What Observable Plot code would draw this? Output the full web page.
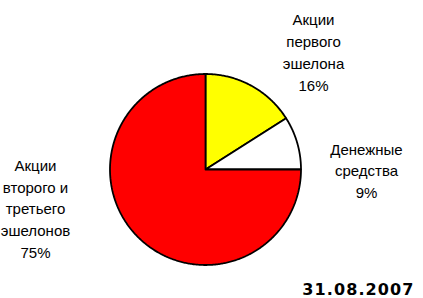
<!DOCTYPE html>
<html><head><meta charset="utf-8">
<script src="https://cdn.jsdelivr.net/npm/d3@7"></script>
<script src="https://cdn.jsdelivr.net/npm/@observablehq/plot@0.6"></script>
<style>body{margin:0;background:#fff} .datelabel text{letter-spacing:1.1px}</style>
</head><body><div id="chart"></div>
<script>
const categories = ["Акции\nпервого\nэшелона", "Денежные\nсредства", "Акции\nвторого и\nтретьего\nэшелонов"];
const shares = [16, 9, 75];
const colors = ["#ffff00", "#ffffff", "#ff0000"];
const dateLabel = "31.08.2007";

// layout (not data)
const cx = 205, cy = 169, r = 95.5;
const labelAnchors = [[1.131, 1.24], [1.686, 0.0], [-1.78, -0.398]];

const arcs = d3.pie().sort(null).value(d => d)(shares);
const poly = [];
arcs.forEach((a, i) => {
  poly.push({k: i, x: 0, y: 0});
  const n = Math.max(2, Math.ceil((a.endAngle - a.startAngle) / 0.01));
  for (let j = 0; j <= n; j++) {
    const t = a.startAngle + (a.endAngle - a.startAngle) * j / n;
    poly.push({k: i, x: Math.sin(t), y: Math.cos(t)});
  }
  poly.push({k: i, x: 0, y: 0});
});
const labels = categories.map((c, i) => ({
  text: c + "\n" + shares[i] + "%",
  x: labelAnchors[i][0], y: labelAnchors[i][1]
}));

const chart = Plot.plot({
  width: 423, height: 298,
  margin: 0,
  style: {background: "#fff", fontFamily: "'Liberation Sans', Arial, sans-serif"},
  x: {domain: [-1, 1], range: [cx - r, cx + r], axis: null},
  y: {domain: [-1, 1], range: [cy + r, cy - r], axis: null},
  marks: [
    Plot.line(poly, {x: "x", y: "y", z: "k", fill: d => colors[d.k], stroke: "#000", strokeWidth: 1.8, strokeLinejoin: "miter", curve: "linear"}),
    Plot.text(labels, {x: "x", y: "y", text: "text", fontSize: 15, lineHeight: 1.45, fill: "#000", lineAnchor: "middle"}),
    Plot.text([dateLabel], {text: d => d, frameAnchor: "bottom-right", textAnchor: "end", dx: -9, dy: -4, lineAnchor: "bottom",
      fontSize: 16, fontWeight: "bold", fontFamily: "'DejaVu Sans', Verdana, sans-serif", fill: "#000", className: "datelabel"})
  ]
});
document.getElementById("chart").appendChild(chart);
</script>
</body></html>
